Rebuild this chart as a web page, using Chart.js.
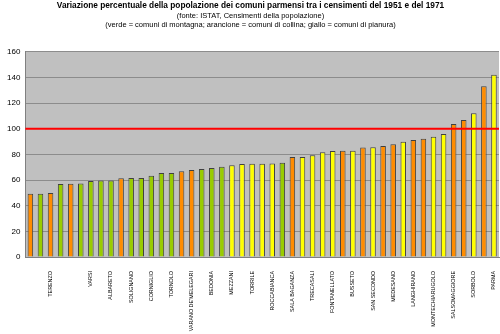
<!DOCTYPE html>
<html lang="it">
<head>
    <meta charset="UTF-8">
    <title>Variazione percentuale popolazione comuni parmensi 1951-1971</title>
    <script src="https://cdn.jsdelivr.net/npm/chart.js"></script>
    <style>
        html, body { margin: 0; padding: 0; background: #ffffff; }
        #wrap { width: 500px; height: 334px; }
    </style>
</head>
<body>
    <div id="wrap"><canvas id="popChart"></canvas></div>

    <script>
        // comuni (only every other one is labelled in the original)
        const comuni = [
            '', '', 'TERENZO', '', '', '', 'VARSI', '', 'ALBARETO', '',
            'SOLIGNANO', '', 'CORNIGLIO', '', 'TORNOLO', '', "VARANO DE'MELEGARI", '', 'BEDONIA', '',
            'MEZZANI', '', 'TORRILE', '', 'ROCCABIANCA', '', 'SALA BAGANZA', '', 'TRECASALI', '',
            'FONTANELLATO', '', 'BUSSETO', '', 'SAN SECONDO', '', 'MEDESANO', '', 'LANGHIRANO', '',
            'MONTECHIARUGOLO', '', 'SALSOMAGGIORE', '', 'SORBOLO', '', 'PARMA'
        ];

        // population 1971 as % of 1951
        const variazione = [
            49.3, 49.2, 49.8, 56.9, 57.1, 57.3, 59.2, 59.7, 59.7, 61.3,
            61.6, 61.6, 63.4, 65.5, 65.5, 66.8, 67.8, 68.6, 69.4, 70.4,
            71.5, 72.5, 72.7, 72.7, 72.9, 73.5, 78.0, 78.0, 79.3, 81.6,
            82.7, 82.9, 82.9, 85.3, 85.6, 86.6, 87.9, 89.8, 91.1, 92.1,
            93.7, 95.8, 103.6, 106.7, 112.0, 133.1, 142.0
        ];

        // m = montagna, c = collina, p = pianura
        const zona = [
            'c', 'm', 'c', 'm', 'c', 'm', 'm', 'm', 'm', 'c',
            'm', 'm', 'm', 'm', 'm', 'c', 'c', 'm', 'm', 'm',
            'p', 'p', 'p', 'p', 'p', 'm', 'c', 'p', 'p', 'p',
            'p', 'c', 'p', 'c', 'p', 'c', 'c', 'p', 'c', 'c',
            'p', 'p', 'c', 'c', 'p', 'c', 'p'
        ];

        const yTicks = [0, 20, 40, 60, 80, 100, 120, 140, 160];

        const zonaColors = { m: '#99cc00', c: '#ff8c00', p: '#ffff00' };

        // grey plot background
        const plotBackground = {
            id: 'plotBackground',
            beforeDraw(chart) {
                const { ctx, chartArea } = chart;
                ctx.save();
                ctx.fillStyle = '#c0c0c0';
                ctx.fillRect(chartArea.left, chartArea.top, chartArea.width, chartArea.height);
                ctx.restore();
            }
        };

        // red reference line at 100
        const refLine = {
            id: 'refLine',
            afterDatasetsDraw(chart) {
                const { ctx, chartArea, scales } = chart;
                const y = scales.y.getPixelForValue(100);
                ctx.save();
                ctx.strokeStyle = '#ff0000';
                ctx.lineWidth = 2;
                ctx.beginPath();
                ctx.moveTo(chartArea.left, y);
                ctx.lineTo(chartArea.right, y);
                ctx.stroke();
                ctx.restore();
            }
        };

        const ctx = document.getElementById('popChart').getContext('2d');
        new Chart(ctx, {
            type: 'bar',
            data: {
                labels: comuni,
                datasets: [{
                    data: variazione,
                    backgroundColor: zona.map(z => zonaColors[z]),
                    borderColor: '#404040',
                    borderWidth: 1,
                    borderSkipped: 'bottom',
                    barPercentage: 0.55,
                    categoryPercentage: 1.0
                }]
            },
            options: {
                responsive: true,
                maintainAspectRatio: false,
                animation: false,
                layout: { padding: { left: 2, right: 1, top: 0, bottom: 0 } },
                plugins: {
                    legend: { display: false },
                    tooltip: { enabled: false },
                    title: {
                        display: true,
                        text: 'Variazione percentuale della popolazione dei comuni parmensi tra i censimenti del 1951 e del 1971',
                        color: '#000000',
                        font: { family: 'Liberation Sans', size: 8.3, weight: 'bold' },
                        padding: { top: 1, bottom: 0 }
                    },
                    subtitle: {
                        display: true,
                        text: ['(fonte: ISTAT, Censimenti della popolazione)',
                               '(verde = comuni di montagna; arancione = comuni di collina; giallo = comuni di pianura)'],
                        color: '#000000',
                        font: { family: 'Liberation Sans', size: 7.5, lineHeight: 1.25 },
                        padding: { top: 0, bottom: 22 }
                    }
                },
                scales: {
                    x: {
                        grid: { display: false },
                        border: { color: '#808080' },
                        afterFit(scale) {
                            scale.paddingRight = 0;
                            scale.paddingLeft = 0;
                            scale.height = 77;
                        },
                        ticks: {
                            autoSkip: false,
                            maxRotation: 90,
                            minRotation: 90,
                            color: '#000000',
                            padding: 6,
                            font: { family: 'Liberation Sans', size: 5.4 }
                        }
                    },
                    y: {
                        min: 0,
                        max: 160,
                        afterBuildTicks(scale) {
                            scale.ticks = yTicks.map(v => ({ value: v }));
                        },
                        grid: { color: '#8c8c8c', drawTicks: false },
                        border: { color: '#808080' },
                        ticks: {
                            color: '#000000',
                            padding: 5,
                            font: { family: 'Liberation Sans', size: 8 }
                        }
                    }
                }
            },
            plugins: [plotBackground, refLine]
        });
    </script>
</body>
</html>
